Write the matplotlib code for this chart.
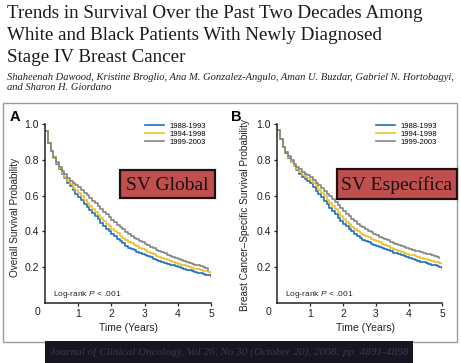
# Survival trends figure: two Kaplan-Meier panels (overall / breast cancer specific)
import matplotlib
matplotlib.use('Agg')
import matplotlib.pyplot as plt
from matplotlib.patches import Rectangle
import numpy as np

plt.rcParams['font.family'] = ['Liberation Sans Narrow', 'Liberation Sans', 'DejaVu Sans']
plt.rcParams['mathtext.fontset'] = 'custom'
plt.rcParams['mathtext.rm'] = 'Liberation Sans'
plt.rcParams['mathtext.it'] = 'Liberation Sans:italic'

W, H = 461, 363

# data: survival probability at each month (0..60)
months = np.arange(61)
periods = ['1988-1993', '1994-1998', '1999-2003']
colors = ['#1f6fbf', '#ecc02a', '#858585']

os_1988 = [0.963, 0.894, 0.848, 0.810, 0.778, 0.749, 0.722, 0.697, 0.673, 0.651, 0.630, 0.611,
           0.593, 0.574, 0.555, 0.537, 0.519, 0.501, 0.484, 0.467, 0.448, 0.431, 0.415, 0.400,
           0.385, 0.372, 0.358, 0.345, 0.333, 0.321, 0.310, 0.302, 0.294, 0.287, 0.281, 0.274,
           0.268, 0.261, 0.255, 0.248, 0.242, 0.236, 0.230, 0.225, 0.220, 0.215, 0.210, 0.205,
           0.200, 0.196, 0.191, 0.187, 0.183, 0.178, 0.174, 0.170, 0.166, 0.162, 0.158, 0.154, 0.150]
os_1994 = [0.963, 0.894, 0.848, 0.812, 0.781, 0.753, 0.728, 0.705, 0.683, 0.663, 0.645, 0.630,
           0.615, 0.596, 0.578, 0.560, 0.543, 0.526, 0.509, 0.492, 0.476, 0.460, 0.444, 0.429,
           0.415, 0.402, 0.390, 0.377, 0.365, 0.353, 0.342, 0.334, 0.326, 0.318, 0.310, 0.302,
           0.295, 0.287, 0.279, 0.271, 0.264, 0.257, 0.250, 0.245, 0.240, 0.235, 0.230, 0.225,
           0.220, 0.215, 0.211, 0.206, 0.201, 0.197, 0.192, 0.188, 0.184, 0.180, 0.176, 0.172, 0.169]
os_1999 = [0.963, 0.894, 0.850, 0.815, 0.786, 0.760, 0.738, 0.718, 0.700, 0.684, 0.670, 0.659,
           0.648, 0.632, 0.616, 0.601, 0.586, 0.571, 0.556, 0.541, 0.526, 0.511, 0.496, 0.481,
           0.466, 0.452, 0.438, 0.424, 0.411, 0.398, 0.385, 0.375, 0.365, 0.356, 0.347, 0.338,
           0.330, 0.322, 0.314, 0.306, 0.298, 0.290, 0.283, 0.277, 0.270, 0.264, 0.258, 0.252,
           0.246, 0.241, 0.235, 0.230, 0.224, 0.219, 0.214, 0.210, 0.206, 0.202, 0.198, 0.183]

bcss_1988 = [0.968, 0.918, 0.872, 0.840, 0.812, 0.786, 0.763, 0.742, 0.722, 0.704, 0.690, 0.680,
             0.668, 0.648, 0.628, 0.609, 0.590, 0.571, 0.552, 0.533, 0.514, 0.495, 0.476, 0.458,
             0.442, 0.428, 0.414, 0.400, 0.387, 0.374, 0.362, 0.354, 0.346, 0.339, 0.332, 0.325,
             0.318, 0.312, 0.306, 0.300, 0.294, 0.288, 0.282, 0.277, 0.272, 0.266, 0.261, 0.256,
             0.251, 0.246, 0.241, 0.236, 0.231, 0.227, 0.222, 0.218, 0.214, 0.210, 0.206, 0.202, 0.198]
bcss_1994 = [0.968, 0.918, 0.872, 0.841, 0.814, 0.790, 0.768, 0.749, 0.732, 0.717, 0.704, 0.696,
             0.689, 0.670, 0.651, 0.632, 0.614, 0.596, 0.578, 0.560, 0.541, 0.523, 0.505, 0.487,
             0.470, 0.455, 0.440, 0.426, 0.414, 0.402, 0.390, 0.382, 0.374, 0.367, 0.359, 0.352,
             0.345, 0.338, 0.330, 0.323, 0.316, 0.309, 0.302, 0.297, 0.291, 0.286, 0.281, 0.275,
             0.270, 0.266, 0.261, 0.257, 0.253, 0.248, 0.244, 0.240, 0.236, 0.231, 0.227, 0.222, 0.218]
bcss_1999 = [0.968, 0.918, 0.874, 0.845, 0.820, 0.798, 0.779, 0.762, 0.747, 0.734, 0.723, 0.713,
             0.704, 0.688, 0.673, 0.657, 0.642, 0.627, 0.611, 0.595, 0.579, 0.563, 0.547, 0.531,
             0.515, 0.499, 0.484, 0.470, 0.457, 0.444, 0.432, 0.422, 0.413, 0.404, 0.395, 0.386,
             0.378, 0.371, 0.364, 0.357, 0.350, 0.343, 0.336, 0.330, 0.325, 0.319, 0.313, 0.308,
             0.302, 0.298, 0.293, 0.289, 0.284, 0.280, 0.275, 0.271, 0.266, 0.262, 0.257, 0.250]

title_lines = ['Trends in Survival Over the Past Two Decades Among',
               'White and Black Patients With Newly Diagnosed',
               'Stage IV Breast Cancer']
authors = ['Shaheenah Dawood, Kristine Broglio, Ana M. Gonzalez-Angulo, Aman U. Buzdar, Gabriel N. Hortobagyi,',
           'and Sharon H. Giordano']
citation = 'Journal of Clinical Oncology, Vol 26, No 30 (October 20), 2008: pp. 4891-4898'


def fx(x):
    return x / W


def fy(y):
    return 1 - y / H


fig = plt.figure(figsize=(W / 100, H / 100), dpi=100)
fig.patch.set_facecolor('white')

# header
for i, line in enumerate(title_lines):
    fig.text(fx(7), fy(14 + 22 * i), line, family='Liberation Serif', fontsize=13.7,
             color='#1a1a1a', va='center', ha='left')
for i, line in enumerate(authors):
    fig.text(fx(7), fy(77 + 11 * i), line, family='Liberation Serif', style='italic',
             fontsize=7.6, color='#222222', va='center', ha='left')

# outer frame and citation banner
fig.patches.append(Rectangle((fx(3), fy(342)), fx(454), 239 / H, transform=fig.transFigure,
                             fill=False, ec='#9a9a9a', lw=1))
fig.patches.append(Rectangle((fx(45), fy(363)), fx(368), 22 / H, transform=fig.transFigure,
                             fc='#181422', ec='none'))
fig.text(fx(229), fy(352), citation, family='Liberation Serif', style='italic', fontsize=8.0,
         color='#3c3850', ha='center', va='center')

panels = [
    dict(rect=[fx(45), fy(303), fx(166), 179 / H], data=[os_1988, os_1994, os_1999],
         letter='A', lx=15, ylabel='Overall Survival Probability', ylx=15, yly=217,
         xlx=128, box=(120, 170, 215, 198), boxtext='SV Global', zero_x=37),
    dict(rect=[fx(277), fy(303), fx(165), 179 / H], data=[bcss_1988, bcss_1994, bcss_1999],
         letter='B', lx=236, ylabel='Breast Cancer\u2013Specific Survival Probability', ylx=245, yly=215,
         xlx=365, box=(337, 169, 457, 199), boxtext='SV Espec\u00edfica', zero_x=268),
]

for p in panels:
    ax = fig.add_axes(p['rect'])
    for series, c, lab in zip(p['data'], colors, periods):
        t = months[:len(series)] / 12
        ax.step(t, series, where='post', color=c, lw=1.2, label=lab)
    ax.set_xlim(0, 5)
    ax.set_ylim(0, 1.0)
    ax.set_xticks([1, 2, 3, 4, 5])
    ax.set_yticks([0.2, 0.4, 0.6, 0.8, 1.0])
    ax.set_yticklabels(['0.2', '0.4', '0.6', '0.8', '1.0'])
    ax.tick_params(labelsize=7.5, length=2.5, width=0.9, pad=2, colors='#222222')
    for s in ['top', 'right']:
        ax.spines[s].set_visible(False)
    for s in ['left', 'bottom']:
        ax.spines[s].set_linewidth(1.1)
        ax.spines[s].set_color('#222222')
    ax.legend(loc='upper right', bbox_to_anchor=(0.99, 1.03), frameon=False, fontsize=5.5,
              handlelength=2.6, handletextpad=0.6, labelspacing=0.1, borderpad=0)
    ax.text(0.05, 0.05, 'Log-rank $\\mathit{P}$ < .001', transform=ax.transAxes,
            fontsize=6, color='#222222', va='center')

    fig.text(fx(p['zero_x']), fy(312), '0', fontsize=7.5, color='#222222', ha='center', va='center')
    fig.text(fx(p['lx']), fy(117), p['letter'], fontsize=10.5, weight='bold',
             family=['Liberation Sans', 'DejaVu Sans'], ha='center', va='center')
    fig.text(fx(p['ylx']), fy(p['yly']), p['ylabel'], rotation=90, fontsize=7.2,
             color='#222222', ha='center', va='center')
    fig.text(fx(p['xlx']), fy(328), 'Time (Years)', fontsize=7.5, color='#222222',
             ha='center', va='center')

    x0, y0, x1, y1 = p['box']
    fig.patches.append(Rectangle((fx(x0), fy(y1)), fx(x1 - x0), (y1 - y0) / H,
                                 transform=fig.transFigure, fc='#c0504f', ec='#221010', lw=1.6))
    fig.text(fx((x0 + x1) / 2), fy((y0 + y1) / 2 + 1), p['boxtext'], family='Liberation Serif',
             fontsize=14, color='#1a0f0f', ha='center', va='center')

fig.savefig('out.png', dpi=100)
